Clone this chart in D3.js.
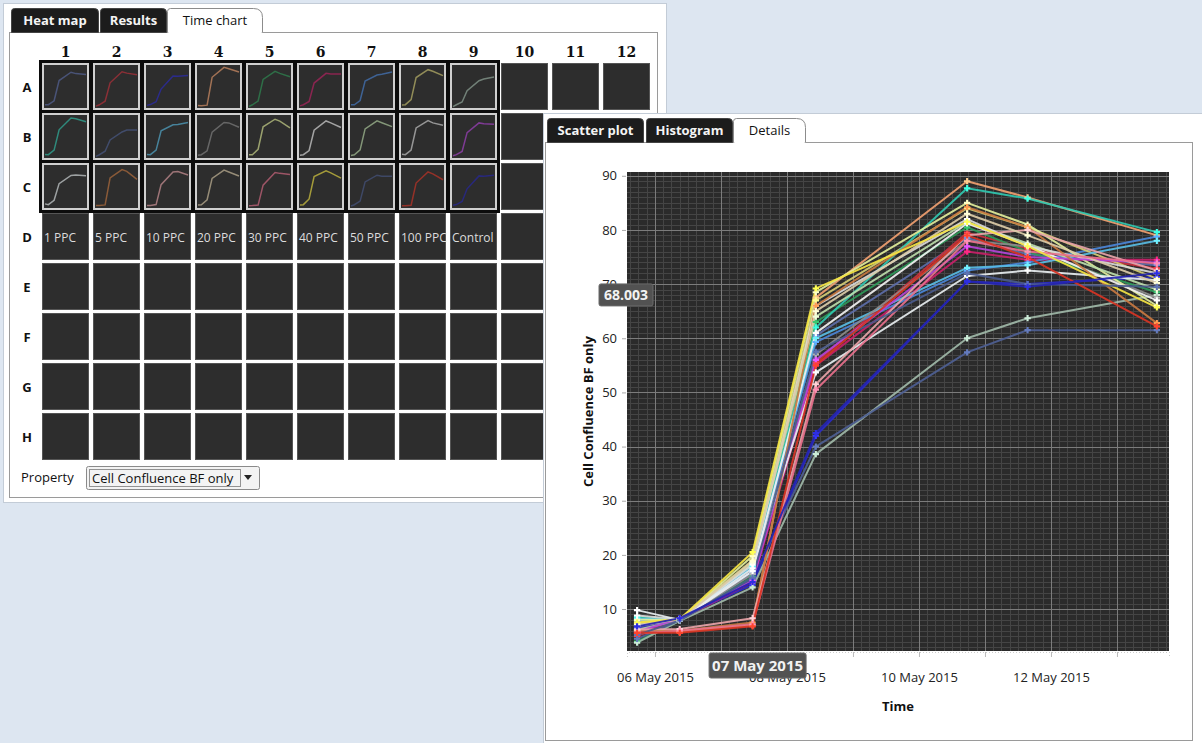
<!DOCTYPE html>
<html><head><meta charset="utf-8">
<script src="https://cdn.jsdelivr.net/npm/d3@7"></script>
<style>html,body{margin:0;padding:0;background:#dde6f1;overflow:hidden}svg{display:block}</style>
</head><body><svg id="c" width="1202" height="743"></svg>
<script>
// ---------------- DATA ----------------
const wells = ["A1","A2","A3","A4","A5","A6","A7","A8","A9",
               "B1","B2","B3","B4","B5","B6","B7","B8","B9",
               "C1","C2","C3","C4","C5","C6","C7","C8","C9"];
const wellColors = ["#5c6ca8","#c8303c","#2a2ac8","#f0a070","#2e9a58","#c82068","#4a86d8","#d4cc74","#9fb8a8",
                    "#30c8b0","#4e6094","#58bce4","#8c8c8c","#e2ee9a","#f2f2f2","#bcdcaa","#dadada","#b444d8",
                    "#e8eef0","#c87840","#e8a4a8","#dccca8","#e8708c","#f4e442","#4a5a8c","#d83424","#2424b0"];
const timePoints = [new Date(2015,4,5,17,30), new Date(2015,4,6,9,0), new Date(2015,4,7,11,30),
                    new Date(2015,4,8,10,30), new Date(2015,4,10,17,30), new Date(2015,4,11,15,30),
                    new Date(2015,4,13,14,30)];
const confluence = [
  [7.8, 8.0, 16.5, 60.5, 78.5, 75.5, 73.5],
  [5.0, 7.8, 15.5, 55.5, 79.5, 76.5, 72.9],
  [6.5, 8.3, 14.5, 42.0, 70.5, 70.0, 71.3],
  [6.0, 5.8, 7.0, 67.5, 89.0, 86.0, 79.0],
  [4.0, 7.8, 16.0, 63.0, 80.5, 76.0, 68.5],
  [5.5, 8.0, 15.0, 55.0, 76.0, 74.5, 74.5],
  [8.0, 7.9, 17.0, 59.3, 72.5, 74.0, 78.8],
  [7.5, 8.1, 19.0, 67.0, 84.0, 80.5, 71.0],
  [3.8, 7.8, 14.0, 38.6, 60.0, 63.7, 68.0],
  [8.5, 8.0, 18.0, 62.0, 87.7, 85.8, 79.6],
  [4.5, 7.9, 15.5, 40.0, 57.4, 61.5, 61.5],
  [8.2, 8.0, 17.8, 60.0, 73.0, 73.5, 78.0],
  [6.8, 8.0, 16.5, 57.0, 78.0, 77.0, 67.5],
  [8.0, 8.0, 19.8, 68.5, 85.0, 81.0, 66.0],
  [7.0, 8.0, 17.0, 61.0, 81.2, 77.2, 67.0],
  [6.2, 7.9, 18.5, 64.0, 81.5, 77.5, 69.0],
  [8.8, 8.1, 18.2, 66.0, 82.0, 77.0, 72.0],
  [5.8, 8.2, 15.2, 56.0, 77.0, 75.0, 74.0],
  [9.8, 8.0, 17.5, 53.7, 71.5, 72.5, 70.7],
  [6.0, 6.0, 7.5, 66.0, 84.2, 80.5, 62.8],
  [6.2, 6.3, 8.3, 51.5, 79.0, 80.0, 72.5],
  [7.2, 8.0, 18.8, 65.0, 83.0, 79.0, 70.2],
  [5.5, 6.0, 7.2, 50.5, 78.0, 76.0, 73.8],
  [7.5, 8.1, 20.5, 69.2, 81.5, 77.0, 65.7],
  [5.2, 7.9, 15.8, 57.5, 72.0, 70.0, 69.5],
  [5.6, 5.6, 6.8, 55.0, 79.0, 75.0, 62.2],
  [6.8, 8.3, 15.0, 42.5, 70.5, 69.5, 72.0]
];
const plateColumns = ["1","2","3","4","5","6","7","8","9","10","11","12"];
const plateRows = ["A","B","C","D","E","F","G","H"];
const conditionLabels = ["1 PPC","5 PPC","10 PPC","20 PPC","30 PPC","40 PPC","50 PPC","100 PPC","Control"];
const yTicks = [10,20,30,40,50,60,70,80,90];
const leftTabs = ["Heat map","Results","Time chart"];
const rightTabs = ["Scatter plot","Histogram","Details"];
const propertyName = "Cell Confluence BF only";
const hoverValue = 68.003;
const hoverTimeLabel = "07 May 2015";

// ---------------- DRAW ----------------
const FONT = "'Open Sans', 'Noto Sans', sans-serif";
const svg = d3.select("#c").style("font-family", FONT);
svg.append("rect").attr("width",1202).attr("height",743).attr("fill","#dde6f1");

function tab(g, x, y, w, h, label, active){
  const r = active ? 9 : 4;
  const d = `M${x},${y+h} L${x},${y+3} Q${x},${y} ${x+3},${y} L${x+w-r},${y} Q${x+w},${y} ${x+w},${y+r} L${x+w},${y+h}`;
  g.append("path").attr("d", active ? d : d + "Z")
    .attr("fill", active ? "#ffffff" : "#1c1c1c")
    .attr("stroke", active ? "#8c8c8c" : "#444");
  if (active) g.append("line").attr("x1",x+1).attr("x2",x+w-1).attr("y1",y+h+0.5).attr("y2",y+h+0.5).attr("stroke","#fff").attr("stroke-width",2);
  g.append("text").attr("x", x + w/2).attr("y", y + h/2 + 4.5).attr("text-anchor","middle")
    .attr("font-size", 13).attr("font-weight", active ? 400 : 700)
    .attr("fill", active ? "#111" : "#f4f4f4").text(label);
}

// ===== Left window (plate) =====
const L = svg.append("g");
L.append("rect").attr("x",3.5).attr("y",3.5).attr("width",663).attr("height",499).attr("fill","#fff").attr("stroke","#c3ccd7");
L.append("rect").attr("x",9.5).attr("y",32.5).attr("width",648).attr("height",465).attr("fill","#fff").attr("stroke","#9a9a9a");
const ltx = [11, 100, 167], ltw = [87, 66, 95];
leftTabs.forEach((t,i)=> tab(L, ltx[i]+0.5, 8.5, ltw[i], 24, t, i===2));

const colX = d3.scaleBand().domain(plateColumns).range([42,650]).paddingInner(4/51);
const rowY = d3.scaleBand().domain(plateRows).range([63,460]).paddingInner(3/50);
const bw = colX.bandwidth(), bh = rowY.bandwidth();

plateColumns.forEach(c => L.append("text").attr("x", colX(c)+bw/2).attr("y", 57)
  .attr("text-anchor","middle").attr("font-size",14).attr("font-weight",700).attr("font-family","'DejaVu Serif', serif").attr("fill","#111").text(c));
plateRows.forEach(r => L.append("text").attr("x", 27).attr("y", rowY(r)+bh/2+5)
  .attr("text-anchor","middle").attr("font-size",13).attr("font-weight",700).attr("fill","#111").text(r));

// black block behind measured wells
L.append("rect").attr("x", colX("1")-3).attr("y", rowY("A")-3)
  .attr("width", colX("9")+bw+3-(colX("1")-3)).attr("height", rowY("C")+bh+3-(rowY("A")-3)).attr("fill","#0c0c0c");

const tx = d3.scaleTime().domain(d3.extent(timePoints)).range([3, bw-3]);
const ty = d3.scaleLinear().domain([3, 92]).range([bh-3, 3]);
const thumbLine = d3.line().x((d,i)=>tx(timePoints[i])).y(d=>ty(d));

plateRows.forEach((r, ri) => {
  plateColumns.forEach((c, ci) => {
    const g = L.append("g").attr("transform", `translate(${colX(c)},${rowY(r)})`);
    const measured = ri < 3 && ci < 9;
    g.append("rect").attr("x", measured?1:0.5).attr("y", measured?1:0.5)
      .attr("width", measured?bw-2:bw-1).attr("height", measured?bh-2:bh-1)
      .attr("fill","#2d2d2d").attr("stroke", measured ? "#cfcfcf" : "#555").attr("stroke-width", measured?2:1);
    if (measured) {
      const k = ri*9 + ci;
      g.append("path").attr("d", thumbLine(confluence[k])).attr("fill","none")
        .attr("stroke", wellColors[k]).attr("stroke-width",1.5).attr("stroke-opacity",0.6);
    }
    if (r === "D" && ci < conditionLabels.length) {
      g.append("text").attr("x", 2).attr("y", bh/2+5).attr("font-size",12).attr("fill","#dcdcdc").text(conditionLabels[ci]);
    }
  });
});

L.append("text").attr("x",21).attr("y",482).attr("font-size",13).attr("fill","#111").text("Property");
L.append("rect").attr("x",86.5).attr("y",466.5).attr("width",173).attr("height",23).attr("rx",2).attr("fill","#f3f3f3").attr("stroke","#8a8a8a");
L.append("rect").attr("x",89.5).attr("y",469.5).attr("width",151).attr("height",17).attr("fill","none").attr("stroke","#333").attr("stroke-dasharray","1,1");
L.append("text").attr("x",92).attr("y",483).attr("font-size",13).attr("fill","#111").text(propertyName);
L.append("path").attr("d","M244,475 L252,475 L248,480 Z").attr("fill","#222");

// ===== Right window (time chart) =====
const R = svg.append("g");
R.append("rect").attr("x",543.5).attr("y",113.5).attr("width",670).attr("height",640).attr("fill","#fff").attr("stroke","#c3ccd7");
R.append("rect").attr("x",545.5).attr("y",142.5).attr("width",647).attr("height",598).attr("fill","#fff").attr("stroke","#9a9a9a");
const rtx = [547, 646, 733], rtw = [96, 86, 72];
rightTabs.forEach((t,i)=> tab(R, rtx[i]+0.5, 118.5, rtw[i], 24, t, i===2));

const x = d3.scaleTime().domain([new Date(2015,4,5,13,50), new Date(2015,4,13,18,55)]).range([627,1169]);
const y = d3.scaleLinear().domain([2.25, 90.7]).range([651,172]);
const [px0, px1] = x.range(), [py0, py1] = y.range();

R.append("rect").attr("x",px0).attr("y",py1).attr("width",px1-px0).attr("height",py0-py1).attr("fill","#2b2b2b");
const grid = R.append("g");
d3.timeHour.every(3).range(...x.domain()).forEach(t => grid.append("line")
  .attr("x1",Math.round(x(t))+0.5).attr("x2",Math.round(x(t))+0.5).attr("y1",py1).attr("y2",py0).attr("stroke","#454545"));
d3.range(3, 91, 1).forEach(v => grid.append("line")
  .attr("x1",px0).attr("x2",px1).attr("y1",Math.round(y(v))+0.5).attr("y2",Math.round(y(v))+0.5).attr("stroke","#454545"));
d3.timeDay.range(...x.domain()).forEach(t => grid.append("line")
  .attr("x1",Math.round(x(t))+0.5).attr("x2",Math.round(x(t))+0.5).attr("y1",py1).attr("y2",py0).attr("stroke","#7c7c7c"));
yTicks.forEach(v => grid.append("line")
  .attr("x1",px0).attr("x2",px1).attr("y1",Math.round(y(v))+0.5).attr("y2",Math.round(y(v))+0.5).attr("stroke","#7c7c7c"));

// axes
const yAxis = R.append("g").attr("transform",`translate(${px0-1},0)`)
  .call(d3.axisLeft(y).tickValues(yTicks).tickSize(4).tickPadding(5));
yAxis.select(".domain").remove();
yAxis.selectAll(".tick line").attr("stroke","#aaa");
yAxis.selectAll("text").attr("font-size",13).attr("fill","#222").attr("font-family",FONT);

const fmt = d3.timeFormat("%d %b %Y");
const xAxis = R.append("g").attr("transform",`translate(0,${py0+1})`)
  .call(d3.axisBottom(x).ticks(d3.timeDay.every(1)).tickSize(5).tickPadding(16)
    .tickFormat(d => d.getDate() % 2 === 0 ? fmt(d) : ""));
xAxis.select(".domain").attr("stroke","#ccc").attr("stroke-dasharray","1,2");
xAxis.selectAll(".tick line").attr("stroke","#bbb");
xAxis.selectAll("text").attr("font-size",13).attr("fill","#222").attr("font-family",FONT);

R.append("text").attr("x",(px0+px1)/2).attr("y",711).attr("text-anchor","middle")
  .attr("font-size",13).attr("font-weight",700).attr("fill","#111").text("Time");
R.append("text").attr("transform",`translate(593,${(py0+py1)/2}) rotate(-90)`).attr("text-anchor","middle")
  .attr("font-size",13).attr("font-weight",700).attr("fill","#111").text(propertyName);

// series
const line = d3.line().x((d,i)=>x(timePoints[i])).y(d=>y(d));
const sg = R.append("g");
confluence.forEach((vals,k) => {
  sg.append("path").attr("d", line(vals)).attr("fill","none").attr("stroke", wellColors[k])
    .attr("stroke-width", 2).attr("stroke-opacity", 0.92).attr("stroke-linejoin","round");
});
const sym = d3.symbol().type(d3.symbolCross).size(22);
confluence.forEach((vals,k) => {
  const mc = d3.color(wellColors[k]).brighter(0.7).formatHex();
  vals.forEach((v,i) => sg.append("path").attr("d", sym())
    .attr("transform",`translate(${x(timePoints[i])},${y(v)})`).attr("fill", mc));
});

// hover tooltips
const hy = y(hoverValue);
R.append("rect").attr("x",599).attr("y",hy-11).attr("width",54).attr("height",22).attr("rx",2).attr("fill","#525252").attr("stroke","#6a6a6a");
R.append("text").attr("x",626).attr("y",hy+5).attr("text-anchor","middle").attr("font-size",14).attr("font-weight",700)
  .attr("fill","#f2f2f2").text(d3.format(".3f")(hoverValue));
const hx = x(timePoints[2]) + 5;
R.append("rect").attr("x",hx-48.5).attr("y",653).attr("width",97).attr("height",25).attr("rx",2).attr("fill","#525252").attr("stroke","#6a6a6a");
R.append("text").attr("x",hx).attr("y",671).attr("text-anchor","middle").attr("font-size",15).attr("font-weight",700)
  .attr("fill","#f2f2f2").text(hoverTimeLabel);
</script></body></html>
